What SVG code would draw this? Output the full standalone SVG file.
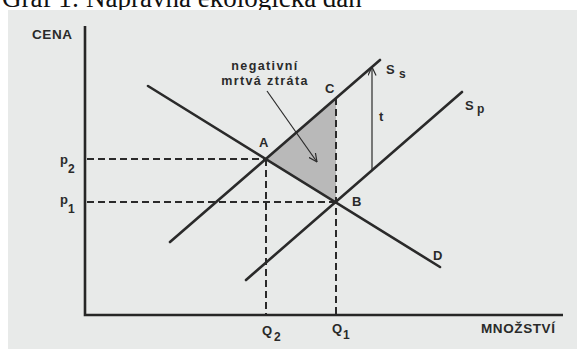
<svg xmlns="http://www.w3.org/2000/svg" width="577" height="349" viewBox="0 0 577 349">
  <defs>
    <style>
      .title { font-family: "Liberation Serif", "Times New Roman", serif; font-size: 27px; fill: #111; }
      .lbl { font-family: "Liberation Sans", Arial, sans-serif; font-weight: bold; font-size: 13px; fill: #2a2a2a; }
      .ax { font-family: "Liberation Sans", Arial, sans-serif; font-weight: bold; font-size: 13.5px; fill: #2a2a2a; letter-spacing: 0.6px; }
      .sub { font-family: "Liberation Sans", Arial, sans-serif; font-weight: bold; font-size: 12px; fill: #2a2a2a; }
      .note { font-family: "Liberation Sans", Arial, sans-serif; font-weight: bold; font-size: 12.5px; fill: #2a2a2a; letter-spacing: 1.4px; }
      .axis { stroke: #262626; stroke-width: 2.6; fill: none; }
      .curve { stroke: #2a2a2a; stroke-width: 2.6; fill: none; stroke-linecap: round; }
      .dash { stroke: #2a2a2a; stroke-width: 2; stroke-dasharray: 7 4; fill: none; }
      .thin { stroke: #2a2a2a; stroke-width: 1.2; fill: none; }
    </style>
    <marker id="open" viewBox="0 0 10 10" refX="9.5" refY="5" markerWidth="9" markerHeight="9" markerUnits="userSpaceOnUse" orient="auto">
      <path d="M0,0.5 L9.5,5 L0,9.5" fill="none" stroke="#2a2a2a" stroke-width="1.3"/>
    </marker>
  </defs>

  <rect x="0" y="0" width="577" height="349" fill="#ffffff"/>
  <text class="title" x="2" y="7">Graf 1: Nápravná ekologická daň</text>
  <rect x="8" y="10" width="569" height="339" fill="#e8eae9"/>

  <g id="shaded-area">
    <polygon points="266,159 336,98 336,202" fill="#b9b9b9"/>
  </g>

  <g id="axes">
    <polyline class="axis" points="85,26 85,315 563,315"/>
    <text class="ax" x="32" y="39">CENA</text>
    <text class="ax" x="481" y="333">MNOŽSTVÍ</text>
  </g>

  <g id="guides">
    <line class="dash" x1="87" y1="159" x2="266" y2="159"/>
    <line class="dash" x1="87" y1="202" x2="336" y2="202"/>
    <line class="dash" x1="266" y1="159" x2="266" y2="314"/>
    <line class="dash" x1="336" y1="98" x2="336" y2="314"/>
  </g>

  <g id="curve-D">
    <line class="curve" x1="148" y1="86" x2="440" y2="267"/>
    <text class="lbl" x="433" y="260">D</text>
  </g>

  <g id="curve-Ss">
    <line class="curve" x1="170" y1="242" x2="380" y2="60"/>
    <text class="lbl" x="386" y="74" font-size="14">S</text>
    <text class="sub" x="399" y="78">s</text>
  </g>

  <g id="curve-Sp">
    <line class="curve" x1="246" y1="280" x2="462" y2="92"/>
    <text class="lbl" x="465" y="110" font-size="14">S</text>
    <text class="sub" x="477" y="113">p</text>
  </g>

  <g id="points">
    <text class="lbl" x="259" y="147">A</text>
    <text class="lbl" x="352" y="206">B</text>
    <text class="lbl" x="325" y="93">C</text>
  </g>

  <g id="price-labels">
    <text class="lbl" x="60" y="164" font-size="14">p</text>
    <text class="sub" x="68" y="173">2</text>
    <text class="lbl" x="60" y="204" font-size="14">p</text>
    <text class="sub" x="68" y="213">1</text>
  </g>

  <g id="quantity-labels">
    <text class="lbl" x="262" y="335" font-size="14">Q</text>
    <text class="sub" x="274" y="341">2</text>
    <text class="lbl" x="332" y="333" font-size="14">Q</text>
    <text class="sub" x="343" y="339">1</text>
  </g>

  <g id="connectors">
    <line class="thin" x1="372" y1="170" x2="372" y2="67" marker-end="url(#open)"/>
    <line class="thin" x1="267" y1="91" x2="317" y2="162" marker-end="url(#open)"/>
  </g>

  <g id="tax-label">
    <text class="lbl" x="379" y="121" font-size="14" font-weight="normal">t</text>
  </g>

  <g id="deadweight-label">
    <text class="note" x="265" y="70" text-anchor="middle">negativní</text>
    <text class="note" x="265" y="85" text-anchor="middle">mrtvá ztráta</text>
  </g>
</svg>
